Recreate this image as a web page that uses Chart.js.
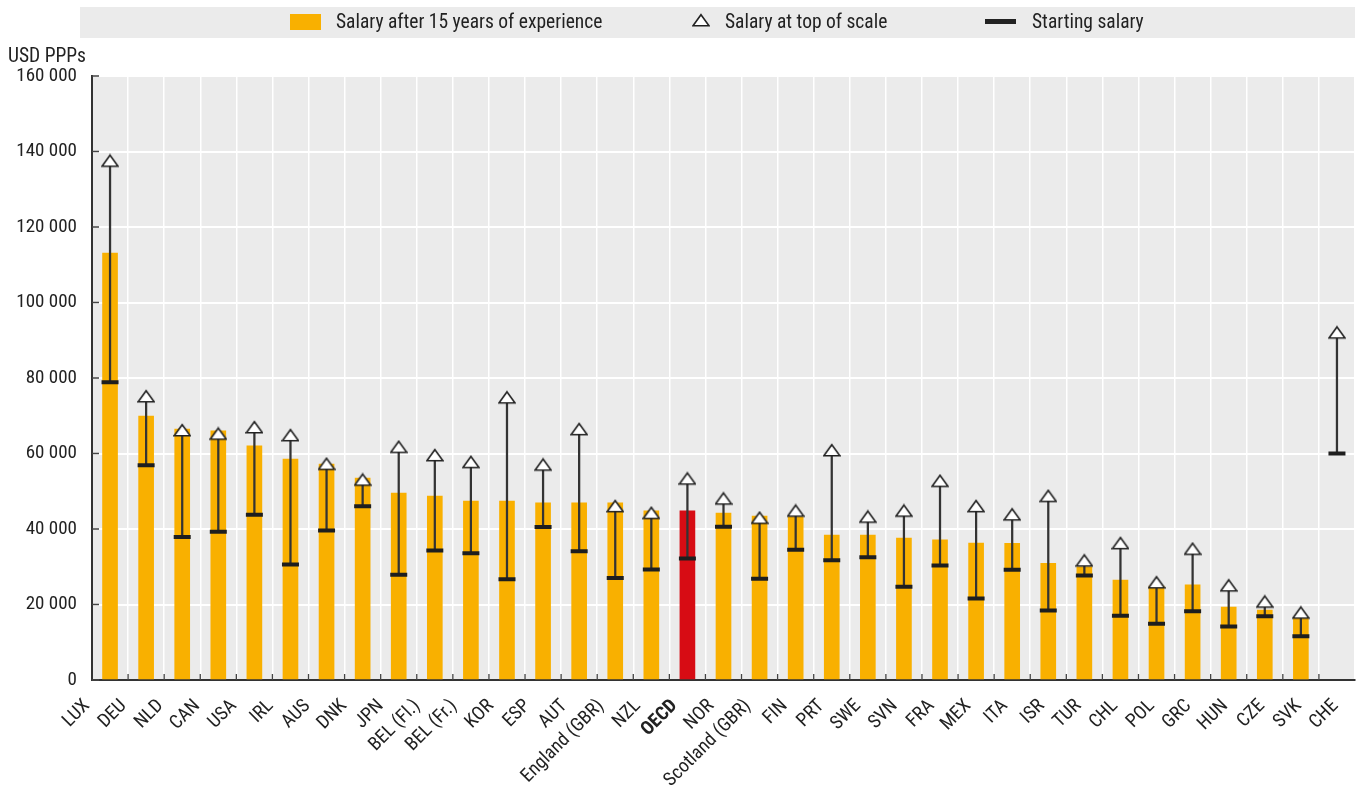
<!DOCTYPE html>
<html>
<head>
<meta charset="utf-8">
<title>Teachers' salaries</title>
<script src="https://cdn.jsdelivr.net/npm/chart.js@4.4.1/dist/chart.umd.min.js"></script>
<style>
    html, body { margin: 0; padding: 0; background: #fff; overflow: hidden; }
    #salaries { display: block; }
</style>
</head>
<body>
<canvas id="salaries" width="1357" height="791"></canvas>
<script>
// Chart data
// -----------------------------------
var countries = ['LUX', 'DEU', 'NLD', 'CAN', 'USA', 'IRL', 'AUS', 'DNK', 'JPN', 'BEL (Fl.)', 'BEL (Fr.)',
    'KOR', 'ESP', 'AUT', 'England (GBR)', 'NZL', 'OECD', 'NOR', 'Scotland (GBR)', 'FIN', 'PRT', 'SWE',
    'SVN', 'FRA', 'MEX', 'ITA', 'ISR', 'TUR', 'CHL', 'POL', 'GRC', 'HUN', 'CZE', 'SVK', 'CHE'];

// Salary after 15 years of experience (bars)
var salary15 = [113100, 69900, 66500, 66000, 62000, 58500, 57200, 53500, 49500, 48700, 47400,
    47400, 46900, 46900, 46900, 44800, 44800, 44200, 43400, 43200, 38400, 38400,
    37600, 37100, 36300, 36200, 30900, 30000, 26500, 24900, 25200, 19300, 18500, 16300, null];

// Salary at top of scale (triangles)
var topScale = [137100, 74700, 65700, 64800, 66500, 64400, 56800, 52600, 61300, 59100, 57300,
    74400, 56600, 66000, 45600, 43800, 52900, 47600, 42500, 44400, 60400, 42800,
    44400, 52300, 45600, 43400, 48300, 31200, 35800, 25400, 34300, 24600, 20300, 17400, 91600];

// Starting salary (dashes)
var startSalary = [78900, 56900, 37900, 39300, 43800, 30600, 39600, 46000, 27900, 34300, 33600,
    26700, 40500, 34100, 27000, 29300, 32200, 40600, 26800, 34500, 31700, 32500,
    24700, 30300, 21600, 29200, 18400, 27700, 17000, 14900, 18200, 14200, 16900, 11600, 60000];

var yTicks = [0, 20000, 40000, 60000, 80000, 100000, 120000, 140000, 160000];

var seriesNames = ['Salary after 15 years of experience', 'Salary at top of scale', 'Starting salary'];
var unitLabel = 'USD PPPs';

(function(window, document, Chart) {

    var FONT_FAMILY = "'Roboto Condensed', 'DejaVu Sans Condensed', sans-serif";
    var ORANGE = '#f9b000';
    var RED = '#d70c14';
    var DARK = '#222222';

    // thousands with a space, e.g. 160 000
    function fmt(v) {
        return String(v).replace(/\B(?=(\d{3})+(?!\d))/g, ' ');
    }

    // white triangle with dark outline, centroid on the canvas centre
    function makeTriangle() {
        var c = document.createElement('canvas');
        c.width = 18;
        c.height = 18;
        var g = c.getContext('2d');
        g.beginPath();
        g.moveTo(9, 1.7);
        g.lineTo(17, 12.7);
        g.lineTo(1, 12.7);
        g.closePath();
        g.fillStyle = '#fff';
        g.fill();
        g.lineWidth = 1.6;
        g.strokeStyle = DARK;
        g.stroke();
        return c;
    }
    var triangle = makeTriangle();

    /*-----------------Plugins-----------------*/
    var plotBackground = {
        id: 'plotBackground',
        beforeDraw: function(chart) {
            var a = chart.chartArea;
            var ctx = chart.ctx;
            ctx.save();
            ctx.fillStyle = '#ebebeb';
            ctx.fillRect(a.left, a.top, a.right - a.left, a.bottom - a.top);
            ctx.restore();
        }
    };

    // the country labels fan out slightly wider than the bars
    var labelSpread = {
        id: 'labelSpread',
        afterLayout: function(chart) {
            var items = chart.scales.x.getLabelItems();
            var n = items.length;
            items.forEach(function(item, i) {
                item.options.translation[0] += 10.75 * (2 * i / (n - 1) - 1);
            });
        }
    };

    // small tick marks drawn on the inside of both axes
    var innerTicks = {
        id: 'innerTicks',
        afterDraw: function(chart) {
            var ctx = chart.ctx;
            var a = chart.chartArea;
            var x = chart.scales.x;
            var y = chart.scales.y;
            ctx.save();
            ctx.strokeStyle = '#444';
            ctx.lineWidth = 1.3;
            ctx.beginPath();
            for (var i = 1; i < countries.length; i++) {
                var px = (x.getPixelForValue(i - 1) + x.getPixelForValue(i)) / 2;
                ctx.moveTo(px, a.bottom);
                ctx.lineTo(px, a.bottom - 6);
            }
            yTicks.forEach(function(t) {
                var py = y.getPixelForValue(t);
                ctx.moveTo(a.left, py);
                ctx.lineTo(a.left + 7, py);
            });
            ctx.stroke();
            ctx.restore();
        }
    };

    // grey legend band across the top and the unit label
    var boxLegend = {
        id: 'boxLegend',
        afterDraw: function(chart) {
            var ctx = chart.ctx;
            ctx.save();
            ctx.fillStyle = '#ebebeb';
            ctx.fillRect(80, 7, chart.chartArea.right - 80, 31);

            ctx.font = '19.5px ' + FONT_FAMILY;
            ctx.textBaseline = 'middle';
            ctx.textAlign = 'left';

            ctx.fillStyle = ORANGE;
            ctx.fillRect(290, 14, 31, 16);
            ctx.fillStyle = DARK;
            ctx.fillText(seriesNames[0], 336, 23);

            ctx.drawImage(triangle, 692, 13);
            ctx.fillText(seriesNames[1], 725, 23);

            ctx.fillRect(985, 19, 31, 5);
            ctx.fillText(seriesNames[2], 1032, 23);

            ctx.fillText(unitLabel, 8, 57);
            ctx.restore();
        }
    };

    /*-----------------Chart-----------------*/
    var ctx = document.getElementById('salaries').getContext('2d');
    var salaries = new Chart(ctx, {
        type: 'bar',
        data: {
            labels: countries,
            datasets: [{
                type: 'line',
                label: seriesNames[1],
                data: topScale,
                showLine: false,
                pointStyle: triangle,
                pointRadius: 9,
                order: 1
            }, {
                type: 'line',
                label: seriesNames[2],
                data: startSalary,
                showLine: false,
                pointStyle: 'line',
                pointRadius: 8.5,
                pointBorderWidth: 4,
                pointBorderColor: '#1e1e1e',
                order: 2
            }, {
                label: 'range',
                data: startSalary.map(function(s, i) { return [s, topScale[i]]; }),
                backgroundColor: '#333',
                barThickness: 1.6,
                grouped: false,
                order: 3
            }, {
                label: seriesNames[0],
                data: salary15,
                backgroundColor: countries.map(function(c) { return c === 'OECD' ? RED : ORANGE; }),
                barThickness: 15,
                grouped: false,
                order: 4
            }]
        },
        options: {
            responsive: false,
            animation: false,
            layout: {
                autoPadding: false,
                padding: { top: 76, left: 8, right: 2, bottom: 0 }
            },
            plugins: {
                legend: { display: false },
                tooltip: { enabled: false }
            },
            scales: {
                x: {
                    offset: true,
                    grid: { color: '#fff', lineWidth: 1.5, offset: true, drawTicks: false },
                    border: { color: '#333', width: 2 },
                    ticks: {
                        autoSkip: false,
                        minRotation: 45,
                        maxRotation: 45,
                        labelOffset: -12.25,
                        padding: 15,
                        color: DARK,
                        font: function(c) {
                            var bold = c.tick && c.tick.label === 'OECD';
                            return { family: FONT_FAMILY, size: 19, weight: bold ? 'bold' : 'normal' };
                        }
                    },
                    afterFit: function(scale) {
                        scale.height = 111;
                        scale.paddingLeft = 0;
                        scale.paddingRight = 0;
                    }
                },
                y: {
                    min: 0,
                    max: 160000,
                    grid: { color: '#fff', lineWidth: 2, drawTicks: false },
                    border: { color: '#333', width: 2 },
                    afterBuildTicks: function(scale) {
                        scale.ticks = yTicks.map(function(v) { return { value: v }; });
                    },
                    ticks: {
                        padding: 15,
                        color: DARK,
                        font: { family: FONT_FAMILY, size: 19 },
                        callback: function(v) { return fmt(v); }
                    },
                    afterFit: function(scale) {
                        scale.width = 84;
                        scale.paddingTop = 0;
                        scale.paddingBottom = 0;
                    }
                }
            }
        },
        plugins: [plotBackground, labelSpread, innerTicks, boxLegend]
    });

})(window, document, window.Chart);
</script>
</body>
</html>
